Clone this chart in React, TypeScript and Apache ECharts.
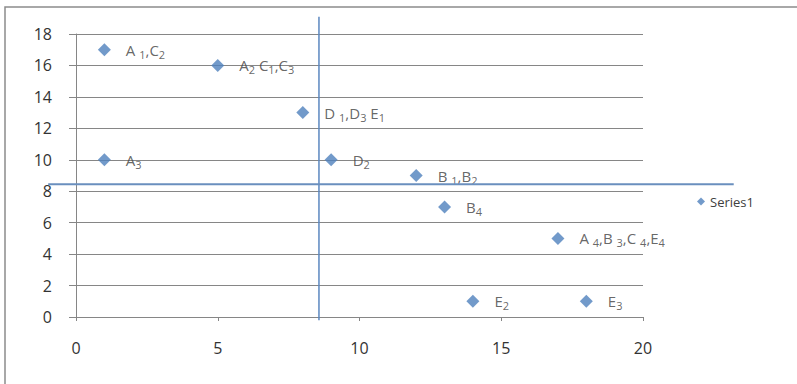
import React, { useEffect, useRef } from "react";
import * as echarts from "echarts";

const xValues = [1, 5, 8, 1, 9, 12, 13, 17, 14, 18];
const yValues = [17, 16, 13, 10, 10, 9, 7, 5, 1, 1];
const pointLabels = [
  "{n|A }{s|1}{n|,C}{s|2}",
  "{n|A}{s|2}{n| C}{s|1}{n|,C}{s|3}",
  "{n|D }{s|1}{n|,D}{s|3}{n| E}{s|1}",
  "{n|A}{s|3}",
  "{n|D}{s|2}",
  "{n|B }{s|1}{n|,B}{s|2}",
  "{n|B}{s|4}",
  "{n|A }{s|4}{n|,B }{s|3}{n|,C }{s|4}{n|,E}{s|4}",
  "{n|E}{s|2}",
  "{n|E}{s|3}",
];
const xTicks = [0, 5, 10, 15, 20];
const yTicks = [0, 2, 4, 6, 8, 10, 12, 14, 16, 18];
const seriesName = "Series1";
// Annotation lines (data units)
const vLineX = 8.57;
const vLineYRange = [-0.2, 19.1];
const hLineY = 8.45;
const hLineXRange = [-0.98, 23.2];

export default function App() {
  const ref = useRef<HTMLDivElement>(null);
  useEffect(() => {
    const chart = echarts.init(ref.current!, null, { renderer: "svg" });
    const font = "'Open Sans', 'Liberation Sans', Arial, sans-serif";
    const data = xValues.map((x, i) => ({
      value: [x, yValues[i]],
      label: { formatter: pointLabels[i] },
    }));
    chart.setOption({
      animation: false,
      backgroundColor: "#ffffff",
      grid: { left: 76, right: 154, top: 34, bottom: 67 },
      xAxis: {
        type: "value",
        min: xTicks[0],
        max: xTicks[xTicks.length - 1],
        interval: 5,
        axisLine: { show: true, lineStyle: { color: "#868686", width: 1 } },
        axisTick: { show: true, length: 4, lineStyle: { color: "#868686" } },
        splitLine: { show: false },
        axisLabel: { color: "#333", fontSize: 16, fontFamily: font, margin: 23 },
      },
      yAxis: {
        type: "value",
        min: yTicks[0],
        max: yTicks[yTicks.length - 1],
        interval: 2,
        axisLine: { show: true, lineStyle: { color: "#868686", width: 1 } },
        axisTick: { show: true, length: 7, lineStyle: { color: "#868686" } },
        splitLine: { show: true, lineStyle: { color: "#868686", width: 1 } },
        axisLabel: { color: "#333", fontSize: 16, fontFamily: font, margin: 24 },
      },
      legend: {
        show: true,
        orient: "vertical",
        left: 692,
        top: 190,
        itemWidth: 8,
        itemHeight: 8,
        itemGap: 4,
        icon: "diamond",
        textStyle: { color: "#404040", fontSize: 13, fontFamily: font },
        data: [seriesName],
      },
      series: [
        {
          name: seriesName,
          type: "scatter",
          symbol: "diamond",
          symbolSize: 13,
          itemStyle: { color: "#4F81BD" },
          data,
          label: {
            show: true,
            position: "right",
            distance: 15,
            color: "#404040",
            fontFamily: font,
            rich: {
              n: { fontSize: 15, color: "#404040", fontFamily: font, lineHeight: 18 },
              s: {
                fontSize: 11,
                color: "#404040",
                fontFamily: font,
                lineHeight: 18,
                padding: [9, 0, 0, 0],
              },
            },
          },
        },
      ],
    });
    const v0 = chart.convertToPixel({ gridIndex: 0 }, [vLineX, vLineYRange[0]]) as number[];
    const v1 = chart.convertToPixel({ gridIndex: 0 }, [vLineX, vLineYRange[1]]) as number[];
    const h0 = chart.convertToPixel({ gridIndex: 0 }, [hLineXRange[0], hLineY]) as number[];
    const h1 = chart.convertToPixel({ gridIndex: 0 }, [hLineXRange[1], hLineY]) as number[];
    chart.setOption({
      graphic: [
        {
          type: "rect",
          shape: { x: 5, y: 7, width: 820, height: 400 },
          style: { fill: "none", stroke: "#8c8c8c", lineWidth: 1.5 },
          silent: true,
        },
        {
          type: "line",
          shape: { x1: v0[0], y1: v0[1], x2: v1[0], y2: v1[1] },
          style: { stroke: "#5B87C0", lineWidth: 1.5 },
          z: 10,
        },
        {
          type: "line",
          shape: { x1: h0[0], y1: h0[1], x2: h1[0], y2: h1[1] },
          style: { stroke: "#6A8FBE", lineWidth: 2 },
          z: 10,
        },
      ],
    });
    return () => chart.dispose();
  }, []);
  return (
    <div
      ref={ref}
      style={{ position: "fixed", left: 0, top: 0, width: 797, height: 384 }}
    />
  );
}
